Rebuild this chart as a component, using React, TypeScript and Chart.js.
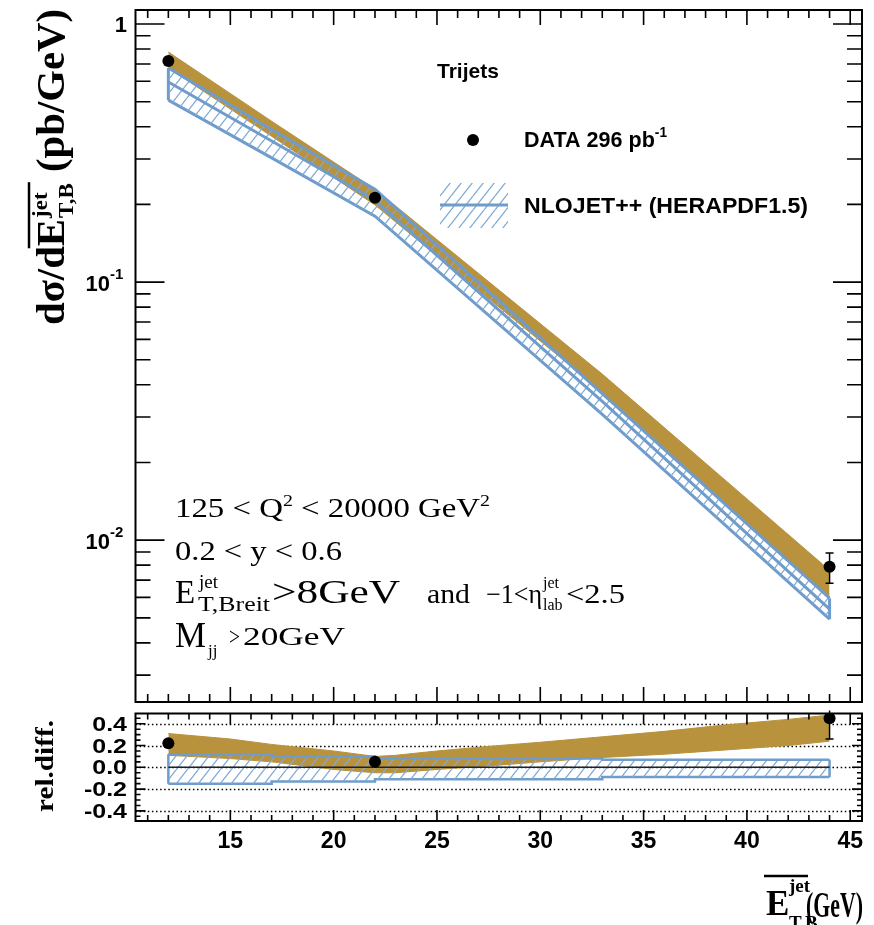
import React, { useEffect, useRef } from 'react';
import { Chart, registerables } from 'chart.js';
Chart.register(...registerables);

const W = 874;
const H = 925;

// ---------- axis ranges & tick labels ----------
const X_MIN = 10.41;
const X_MAX = 45.57;
const Y_MIN = 0.00236;
const Y_MAX = 1.133;
const R_MIN = -0.493;
const R_MAX = 0.494;
const xTickLabels = [15, 20, 25, 30, 35, 40, 45];
const relTickLabels = ['0.4', '0.2', '0.0', '-0.2', '-0.4'];
const relTickValues = [0.4, 0.2, 0.0, -0.2, -0.4];
const logTickValues = [1, 0.1, 0.01];
const logTickBase = ['1', '10', '10'];
const logTickExp = ['', '-1', '-2'];

// ---------- top panel: cross section ----------
const dataX = [12, 22, 44];
const dataY = [0.719, 0.212, 0.00788];
const dataYLow = [0.69, 0.205, 0.00681];
const dataYHigh = [0.75, 0.22, 0.00891];

const nloX = [12, 17, 22, 33, 44];
const nloCentral = [0.596, 0.352, 0.207, 0.0345, 0.0054];
const nloUp = [0.675, 0.39, 0.229, 0.037, 0.00596];
const nloDown = [0.507, 0.303, 0.18, 0.0307, 0.00494];

const corrX = [12, 17, 22, 33, 44];
const corrUp = [0.779, 0.42, 0.229, 0.044, 0.00765];
const corrDown = [0.675, 0.367, 0.199, 0.0375, 0.006];

// ---------- bottom panel: relative difference ----------
const relDataY = [0.22, 0.05, 0.45];
const relDataLow = [0.205, 0.04, 0.26];
const relDataHigh = [0.235, 0.06, 0.64];

const relNloX = [12, 17, 22, 33, 44];
const relNloUp = [0.12, 0.1, 0.08, 0.07, 0.07];
const relNloDown = [-0.15, -0.13, -0.11, -0.09, -0.09];

const relCorrX = [12, 15, 17, 20, 22, 23, 25, 28, 30, 33, 36, 39, 42, 44];
const relCorrUp = [0.31, 0.26, 0.21, 0.15, 0.1, 0.11, 0.15, 0.2, 0.23, 0.28, 0.33, 0.39, 0.44, 0.48];
const relCorrDown = [0.11, 0.08, 0.05, -0.02, -0.05, -0.05, -0.02, 0.02, 0.05, 0.09, 0.12, 0.16, 0.2, 0.24];

// ---------- styles ----------
const GOLD = '#b8923d';
const BLUE = '#6f9cca';
const HATCH = '#7faad6';
const SERIF = '"Liberation Serif", "Times New Roman", serif';
const SANS = '"Liberation Sans", Arial, sans-serif';

const pts = (xs: number[], ys: number[]) => xs.map((x, i) => ({ x, y: ys[i] }));

function makeHatch(): any {
  const c = document.createElement('canvas');
  const w = 11;
  const h = 14;
  c.width = w;
  c.height = h;
  const g = c.getContext('2d')!;
  g.strokeStyle = HATCH;
  g.lineWidth = 1.3;
  for (const off of [-w, 0, w]) {
    g.beginPath();
    g.moveTo(off, h);
    g.lineTo(off + w, 0);
    g.stroke();
  }
  return g.createPattern(c, 'repeat');
}

type Seg = { t: string; font: string; dy?: number };
function segsWidth(ctx: CanvasRenderingContext2D, segs: Seg[]) {
  let w = 0;
  for (const s of segs) {
    ctx.font = s.font;
    w += ctx.measureText(s.t).width;
  }
  return w;
}
function drawSegs(ctx: CanvasRenderingContext2D, segs: Seg[], x: number, y: number, targetW?: number) {
  const nat = segsWidth(ctx, segs);
  const sx = targetW ? targetW / nat : 1;
  ctx.save();
  ctx.translate(x, y);
  ctx.scale(sx, 1);
  ctx.textAlign = 'left';
  ctx.textBaseline = 'alphabetic';
  let cx = 0;
  for (const s of segs) {
    ctx.font = s.font;
    ctx.fillText(s.t, cx, s.dy || 0);
    cx += ctx.measureText(s.t).width;
  }
  ctx.restore();
}

function errorBars(id: string, xs: number[], lows: number[], highs: number[]) {
  return {
    id,
    afterDatasetsDraw(chart: any) {
      const { ctx, chartArea: a } = chart;
      const xs_ = chart.scales.x;
      const ys_ = chart.scales.y;
      ctx.save();
      ctx.beginPath();
      ctx.rect(a.left, a.top - 3, a.right - a.left, a.bottom - a.top + 3);
      ctx.clip();
      ctx.strokeStyle = '#000';
      ctx.lineWidth = 1.5;
      xs.forEach((xv, i) => {
        const px = xs_.getPixelForValue(xv);
        const p1 = ys_.getPixelForValue(lows[i]);
        const p2 = ys_.getPixelForValue(highs[i]);
        ctx.beginPath();
        ctx.moveTo(px, p1);
        ctx.lineTo(px, p2);
        if (Math.abs(p1 - p2) > 14) {
          ctx.moveTo(px - 4, p1);
          ctx.lineTo(px + 4, p1);
          ctx.moveTo(px - 4, p2);
          ctx.lineTo(px + 4, p2);
        }
        ctx.stroke();
      });
      ctx.restore();
    },
  };
}

function drawPageText(ctx: CanvasRenderingContext2D, hatch: any) {
  ctx.save();
  ctx.fillStyle = '#000';
  ctx.strokeStyle = '#000';

  // ----- y title (rotated) -----
  ctx.save();
  ctx.translate(64, 325);
  ctx.rotate(-Math.PI / 2);
  const big = `bold 39px ${SERIF}`;
  const sml = `bold 22px ${SERIF}`;
  ctx.font = big;
  const w1 = ctx.measureText('dσ/d').width;
  const wE = ctx.measureText('E').width;
  ctx.font = sml;
  const wS = Math.max(ctx.measureText('jet').width, ctx.measureText('T,B').width);
  ctx.font = big;
  const w3 = ctx.measureText(' (pb/GeV)').width;
  const total = w1 + wE + wS + 2 + w3;
  const sx = 316 / total;
  ctx.scale(sx, 1);
  ctx.font = big;
  ctx.fillText('dσ/d', 0, 0);
  ctx.fillText('E', w1, 0);
  ctx.font = sml;
  ctx.fillText('jet', w1 + wE + 1, -17);
  ctx.fillText('T,B', w1 + wE + 1, 9);
  ctx.lineWidth = 2.5;
  ctx.beginPath();
  ctx.moveTo(w1 - 2, -35);
  ctx.lineTo(w1 + wE + wS + 2, -35);
  ctx.stroke();
  ctx.font = big;
  ctx.fillText(' (pb/GeV)', w1 + wE + wS + 2, 0);
  ctx.restore();

  // ----- rel.diff. (rotated) -----
  ctx.save();
  ctx.translate(53, 812);
  ctx.rotate(-Math.PI / 2);
  drawSegs(ctx, [{ t: 'rel.diff.', font: `bold 25px ${SERIF}` }], 0, 0, 92);
  ctx.restore();

  // ----- x title -----
  drawSegs(ctx, [{ t: 'E', font: `bold 35px ${SERIF}` }], 766, 915);
  drawSegs(ctx, [{ t: 'jet', font: `bold 19px ${SERIF}` }], 789, 892);
  drawSegs(ctx, [{ t: 'T,B', font: `bold 19px ${SERIF}` }], 789, 929);
  ctx.lineWidth = 2.5;
  ctx.beginPath();
  ctx.moveTo(764, 876);
  ctx.lineTo(808, 876);
  ctx.stroke();
  drawSegs(ctx, [{ t: '(GeV)', font: `bold 35px ${SERIF}` }], 806, 917, 57);

  // ----- legend -----
  drawSegs(ctx, [{ t: 'Trijets', font: `bold 21px ${SANS}` }], 437, 78);
  ctx.beginPath();
  ctx.arc(473, 140, 6, 0, Math.PI * 2);
  ctx.fill();
  drawSegs(
    ctx,
    [
      { t: 'DATA 296 pb', font: `bold 22px ${SANS}` },
      { t: '-1', font: `bold 14px ${SANS}`, dy: -10 },
    ],
    524,
    147,
    143
  );
  ctx.fillStyle = hatch;
  ctx.fillRect(440, 183, 68, 45);
  ctx.fillStyle = '#000';
  ctx.strokeStyle = BLUE;
  ctx.lineWidth = 3;
  ctx.beginPath();
  ctx.moveTo(440, 205);
  ctx.lineTo(508, 205);
  ctx.stroke();
  drawSegs(ctx, [{ t: 'NLOJET++ (HERAPDF1.5)', font: `bold 22px ${SANS}` }], 524, 213, 284);

  // ----- kinematic range annotation -----
  const f28 = `28px ${SERIF}`;
  const f17 = `17px ${SERIF}`;
  drawSegs(
    ctx,
    [
      { t: '125 < Q', font: f28 },
      { t: '2', font: f17, dy: -11 },
      { t: ' < 20000 GeV', font: f28 },
      { t: '2', font: f17, dy: -11 },
    ],
    175,
    517,
    315
  );
  drawSegs(ctx, [{ t: '0.2 < y < 0.6', font: f28 }], 175, 560, 167);
  drawSegs(ctx, [{ t: 'E', font: `33px ${SERIF}` }], 175, 603);
  drawSegs(ctx, [{ t: 'jet', font: `19px ${SERIF}` }], 199, 588);
  drawSegs(ctx, [{ t: 'T,Breit', font: `20px ${SERIF}` }], 198, 611, 72);
  drawSegs(ctx, [{ t: '>8GeV', font: `33px ${SERIF}` }], 272, 603, 128);
  drawSegs(ctx, [{ t: 'and', font: f28 }], 427, 603, 43);
  drawSegs(ctx, [{ t: '−1<η', font: `27px ${SERIF}` }], 486, 603, 56);
  drawSegs(ctx, [{ t: 'jet', font: `16px ${SERIF}` }], 543, 588);
  drawSegs(ctx, [{ t: 'lab', font: `16px ${SERIF}` }], 543, 610);
  drawSegs(ctx, [{ t: '<2.5', font: `27px ${SERIF}` }], 566, 603, 59);
  drawSegs(ctx, [{ t: 'M', font: `35px ${SERIF}` }], 175, 647, 31);
  drawSegs(ctx, [{ t: 'jj', font: `17px ${SERIF}` }], 208, 656);
  drawSegs(ctx, [{ t: '>', font: `26px ${SERIF}` }], 229, 645, 11);
  drawSegs(ctx, [{ t: '20GeV', font: `26px ${SERIF}` }], 243, 645, 102);

  ctx.restore();
}

function topConfig(): any {
  const hatch = makeHatch();
  const decor = {
    id: 'topDecor',
    afterDraw(chart: any) {
      const ctx: CanvasRenderingContext2D = chart.ctx;
      const a = chart.chartArea;
      const xs = chart.scales.x;
      const ys = chart.scales.y;
      ctx.save();
      ctx.strokeStyle = '#000';
      ctx.fillStyle = '#000';
      ctx.lineWidth = 1.6;
      ctx.beginPath();
      for (let v = 11; v <= 45; v++) {
        const px = xs.getPixelForValue(v);
        const len = v % 5 === 0 ? 15 : 8;
        ctx.moveTo(px, a.bottom);
        ctx.lineTo(px, a.bottom - len);
        ctx.moveTo(px, a.top);
        ctx.lineTo(px, a.top + len);
      }
      for (let d = -3; d <= 0; d++) {
        for (let k = 1; k <= 9; k++) {
          const v = k * Math.pow(10, d);
          if (v < Y_MIN || v > Y_MAX) continue;
          const py = ys.getPixelForValue(v);
          const len = k === 1 ? 29 : 15;
          ctx.moveTo(a.left, py);
          ctx.lineTo(a.left + len, py);
          ctx.moveTo(a.right, py);
          ctx.lineTo(a.right - len, py);
        }
      }
      ctx.stroke();
      ctx.lineWidth = 2;
      ctx.strokeRect(a.left, a.top, a.right - a.left, a.bottom - a.top);

      // y tick labels
      logTickValues.forEach((v, i) => {
        const py = ys.getPixelForValue(v);
        if (logTickExp[i] === '') {
          ctx.font = `bold 22px ${SANS}`;
          ctx.textAlign = 'right';
          ctx.fillText(logTickBase[i], 127, py + 8);
        } else {
          ctx.font = `bold 22px ${SANS}`;
          ctx.textAlign = 'right';
          ctx.fillText(logTickBase[i], 110, py + 9);
          ctx.font = `bold 15px ${SANS}`;
          ctx.textAlign = 'left';
          ctx.fillText(logTickExp[i], 110, py - 3);
        }
      });
      ctx.restore();
      drawPageText(ctx, hatch);
    },
  };

  return {
    type: 'line',
    data: {
      datasets: [
        {
          // 0 data
          data: pts(dataX, dataY),
          showLine: false,
          pointRadius: 6,
          pointBackgroundColor: '#000',
          pointBorderWidth: 0,
          order: 0,
        },
        {
          // 1 NLO central
          data: pts(nloX, nloCentral),
          borderColor: BLUE,
          borderWidth: 3,
          pointRadius: 0,
          fill: false,
          order: 1,
        },
        {
          // 2 NLO up (hatched fill to 3)
          data: pts(nloX, nloUp),
          borderColor: BLUE,
          borderWidth: 3,
          pointRadius: 0,
          backgroundColor: hatch,
          fill: 3,
          order: 2,
        },
        {
          // 3 NLO down
          data: pts(nloX, nloDown),
          borderColor: BLUE,
          borderWidth: 3,
          pointRadius: 0,
          fill: false,
          order: 3,
        },
        {
          // 4 left edge
          data: [
            { x: nloX[0], y: nloDown[0] },
            { x: nloX[0], y: nloUp[0] },
          ],
          borderColor: BLUE,
          borderWidth: 3,
          pointRadius: 0,
          fill: false,
          order: 2,
        },
        {
          // 5 right edge
          data: [
            { x: nloX[nloX.length - 1], y: nloDown[nloDown.length - 1] },
            { x: nloX[nloX.length - 1], y: nloUp[nloUp.length - 1] },
          ],
          borderColor: BLUE,
          borderWidth: 3,
          pointRadius: 0,
          fill: false,
          order: 2,
        },
        {
          // 6 corrected up
          data: pts(corrX, corrUp),
          borderColor: GOLD,
          borderWidth: 1,
          pointRadius: 0,
          backgroundColor: GOLD,
          fill: 7,
          order: 5,
        },
        {
          // 7 corrected down
          data: pts(corrX, corrDown),
          borderColor: GOLD,
          borderWidth: 1,
          pointRadius: 0,
          fill: false,
          order: 6,
        },
      ],
    },
    options: {
      responsive: false,
      maintainAspectRatio: false,
      animation: false,
      events: [],
      layout: { padding: { left: 135.5, right: 12, top: 10, bottom: 223 } },
      elements: { line: { tension: 0 } },
      plugins: { legend: { display: false }, tooltip: { enabled: false } },
      scales: {
        x: { type: 'linear', min: X_MIN, max: X_MAX, display: false },
        y: { type: 'logarithmic', min: Y_MIN, max: Y_MAX, display: false },
      },
    },
    plugins: [decor, errorBars('topErr', dataX, dataYLow, dataYHigh)],
  };
}

function botConfig(): any {
  const hatch = makeHatch();
  const decor = {
    id: 'botDecor',
    beforeDatasetsDraw(chart: any) {
      const ctx: CanvasRenderingContext2D = chart.ctx;
      const a = chart.chartArea;
      const ys = chart.scales.y;
      ctx.save();
      ctx.strokeStyle = '#000';
      ctx.lineWidth = 1.3;
      ctx.setLineDash([1.5, 2.6]);
      relTickValues.forEach((v) => {
        const py = Math.round(ys.getPixelForValue(v)) + 0.5;
        ctx.beginPath();
        ctx.moveTo(a.left, py);
        ctx.lineTo(a.right, py);
        ctx.stroke();
      });
      ctx.restore();
    },
    afterDraw(chart: any) {
      const ctx: CanvasRenderingContext2D = chart.ctx;
      const a = chart.chartArea;
      const xs = chart.scales.x;
      const ys = chart.scales.y;
      ctx.save();
      ctx.strokeStyle = '#000';
      ctx.fillStyle = '#000';
      ctx.lineWidth = 1.6;
      ctx.beginPath();
      for (let v = 11; v <= 45; v++) {
        const px = xs.getPixelForValue(v);
        const len = v % 5 === 0 ? 11 : 6;
        ctx.moveTo(px, a.bottom);
        ctx.lineTo(px, a.bottom - len);
        ctx.moveTo(px, a.top);
        ctx.lineTo(px, a.top + len);
      }
      for (let k = -9; k <= 9; k++) {
        const v = k * 0.05;
        if (v < R_MIN || v > R_MAX) continue;
        const py = ys.getPixelForValue(v);
        const len = k % 4 === 0 ? 10 : 5;
        ctx.moveTo(a.left, py);
        ctx.lineTo(a.left + len, py);
        ctx.moveTo(a.right, py);
        ctx.lineTo(a.right - len, py);
      }
      ctx.stroke();
      ctx.lineWidth = 2;
      ctx.strokeRect(a.left, a.top, a.right - a.left, a.bottom - a.top);

      // y labels
      relTickValues.forEach((v, i) => {
        const py = ys.getPixelForValue(v);
        ctx.save();
        ctx.translate(127, py + 7);
        ctx.scale(1.25, 1);
        ctx.font = `bold 20px ${SANS}`;
        ctx.textAlign = 'right';
        ctx.fillText(relTickLabels[i], 0, 0);
        ctx.restore();
      });
      // x labels
      ctx.font = `bold 23px ${SANS}`;
      ctx.textAlign = 'center';
      xTickLabels.forEach((v) => {
        const px = xs.getPixelForValue(v);
        ctx.fillText(String(v), px, 848);
      });
      ctx.restore();
    },
  };

  return {
    type: 'line',
    data: {
      datasets: [
        {
          // 0 data
          data: pts(dataX, relDataY),
          showLine: false,
          pointRadius: 6,
          pointBackgroundColor: '#000',
          pointBorderWidth: 0,
          order: 0,
        },
        {
          // 1 zero line
          data: [
            { x: relNloX[0], y: 0 },
            { x: relNloX[relNloX.length - 1], y: 0 },
          ],
          borderColor: '#222',
          borderWidth: 1.6,
          pointRadius: 0,
          fill: false,
          order: 1,
        },
        {
          // 2 NLO up
          data: pts(relNloX, relNloUp),
          stepped: 'before',
          borderColor: BLUE,
          borderWidth: 2.5,
          pointRadius: 0,
          backgroundColor: hatch,
          fill: 3,
          order: 2,
        },
        {
          // 3 NLO down
          data: pts(relNloX, relNloDown),
          stepped: 'before',
          borderColor: BLUE,
          borderWidth: 2.5,
          pointRadius: 0,
          fill: false,
          order: 3,
        },
        {
          // 4 left edge
          data: [
            { x: relNloX[0], y: relNloDown[0] },
            { x: relNloX[0], y: relNloUp[0] },
          ],
          borderColor: BLUE,
          borderWidth: 2.5,
          pointRadius: 0,
          fill: false,
          order: 2,
        },
        {
          // 5 right edge
          data: [
            { x: relNloX[relNloX.length - 1], y: relNloDown[relNloDown.length - 1] },
            { x: relNloX[relNloX.length - 1], y: relNloUp[relNloUp.length - 1] },
          ],
          borderColor: BLUE,
          borderWidth: 2.5,
          pointRadius: 0,
          fill: false,
          order: 2,
        },
        {
          // 6 corrected up
          data: pts(relCorrX, relCorrUp),
          borderColor: GOLD,
          borderWidth: 1,
          pointRadius: 0,
          backgroundColor: GOLD,
          fill: 7,
          order: 5,
        },
        {
          // 7 corrected down
          data: pts(relCorrX, relCorrDown),
          borderColor: GOLD,
          borderWidth: 1,
          pointRadius: 0,
          fill: false,
          order: 6,
        },
      ],
    },
    options: {
      responsive: false,
      maintainAspectRatio: false,
      animation: false,
      events: [],
      layout: { padding: { left: 135.5, right: 12, top: 713.5, bottom: 104 } },
      elements: { line: { tension: 0 } },
      plugins: { legend: { display: false }, tooltip: { enabled: false } },
      scales: {
        x: { type: 'linear', min: X_MIN, max: X_MAX, display: false },
        y: { type: 'linear', min: R_MIN, max: R_MAX, display: false },
      },
    },
    plugins: [decor, errorBars('botErr', dataX, relDataLow, relDataHigh)],
  };
}

export default function App() {
  const topRef = useRef<HTMLCanvasElement>(null);
  const botRef = useRef<HTMLCanvasElement>(null);
  useEffect(() => {
    const c1 = new Chart(topRef.current as HTMLCanvasElement, topConfig());
    const c2 = new Chart(botRef.current as HTMLCanvasElement, botConfig());
    return () => {
      c1.destroy();
      c2.destroy();
    };
  }, []);
  const cs: React.CSSProperties = { position: 'absolute', left: 0, top: 0, width: W, height: H };
  return (
    <div style={{ position: 'fixed', left: 0, top: 0, width: W, height: H, background: '#fff', overflow: 'hidden' }}>
      <canvas ref={topRef} width={W} height={H} style={cs} />
      <canvas ref={botRef} width={W} height={H} style={cs} />
    </div>
  );
}
